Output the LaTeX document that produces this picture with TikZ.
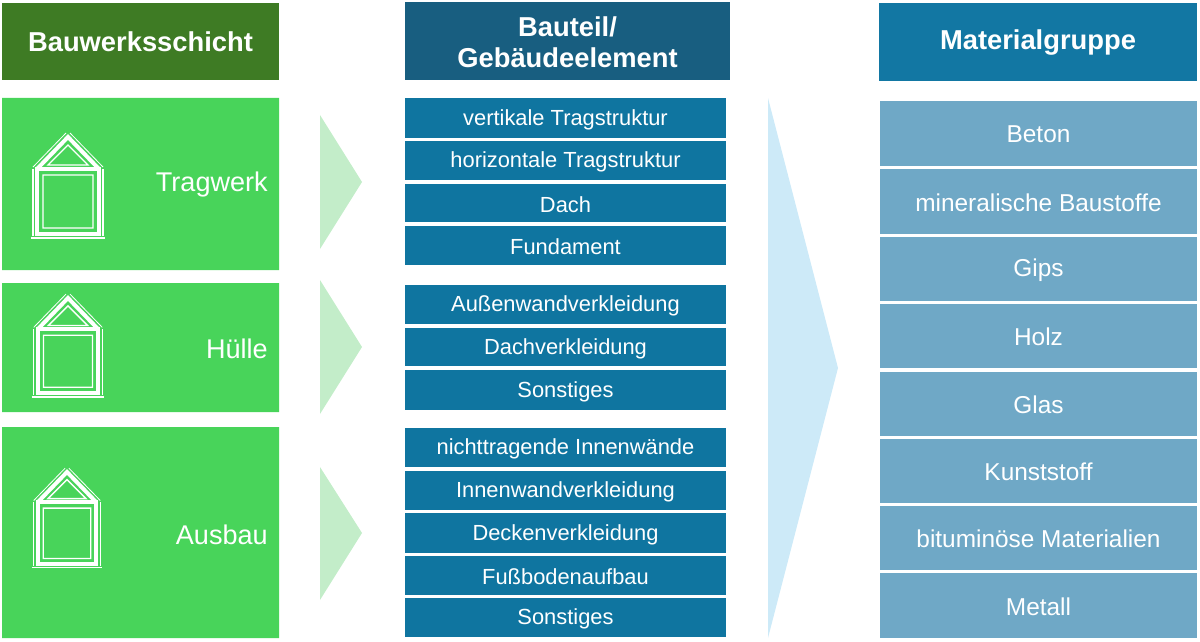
\documentclass[tikz,border=0pt]{standalone}
\usepackage{fontspec}
\setmainfont{Liberation Sans}
\begin{document}
\begin{tikzpicture}[x=0.75pt,y=-0.75pt,
  hdr/.style={text=white,font=\bfseries\fontsize{20.5}{23}\selectfont,align=center,inner sep=0},
  lbl/.style={text=white,font=\fontsize{16.4}{19}\selectfont,inner sep=0},
  big/.style={text=white,font=\fontsize{20.3}{24}\selectfont,inner sep=0,anchor=east}]
\definecolor{hg}{HTML}{3E7B24}\definecolor{hb}{HTML}{185E80}\definecolor{hc}{HTML}{1277A3}
\definecolor{gr}{HTML}{48D45A}\definecolor{lg}{HTML}{C3EDC9}\definecolor{mb}{HTML}{0F75A0}
\definecolor{lb}{HTML}{CDEAF8}\definecolor{rb}{HTML}{6FA8C6}
\useasboundingbox (0,0) rectangle (1200,642);
\newcommand{\house}[3]{% x,y of apex, scale
 \begin{scope}[shift={(#1,#2)},scale=#3,white]
  \draw[line width=3pt] (-31,32) -- (0,0) -- (31,32);
  \draw[line width=0.6pt] (-35,30)--(-2,-4) (35,30)--(2,-4);
  \draw[line width=3pt] (-31,32) rectangle (31,97);
  \draw[line width=1pt] (-25,38) rectangle (25,91) (-20,28)--(0,8)--(20,28)--cycle;
  \draw[line width=0.8pt] (-35,32)--(-35,99) (35,32)--(35,99) (-37,101)--(37,101);
 \end{scope}}
\node[fill=hg,minimum width=277*0.75pt,minimum height=77*0.75pt,hdr] (h1) at (140.5,41.5) {Bauwerksschicht};
\fill[hb] (405,2) rectangle (730,80);
\node[hdr] (h2) at (567.5,42) {Bauteil/\\Gebäudeelement};
\node[fill=hc,minimum width=318*0.75pt,minimum height=78*0.75pt,hdr] (h3) at (1038,42) {Materialgruppe};
\fill[gr] (2,98) rectangle (279,270) (2,283) rectangle (279,412) (2,427) rectangle (279,638);
\node[big] (t1) at (268,185) {Tragwerk};
\node[big] (t2) at (268,349) {Hülle};
\node[big] (t3) at (268,535) {Ausbau};
\house{68}{137}{1}\house{68}{298}{0.98}\house{67}{472}{0.95}
\fill[lg] (320,115)--(362,182)--(320,249)--cycle (320,280)--(362,347)--(320,414)--cycle (320,467)--(362,533)--(320,600)--cycle;
\fill[lb] (768,98)--(838,368)--(768,638)--cycle;
\foreach \a/\b/\t [count=\i] in {98/138/vertikale Tragstruktur,141/180/horizontale Tragstruktur,184/222/Dach,226/265/Fundament,285/324/Außenwandverkleidung,328/366/Dachverkleidung,370/410/Sonstiges,428/467/nichttragende Innenwände,471/510/Innenwandverkleidung,513/553/Deckenverkleidung,556/595/Fußbodenaufbau,598/637/Sonstiges}{
  \fill[mb] (405,\a) rectangle (726,\b);
  \node[lbl] (m\i) at (565.5,{(\a+\b)/2+1.5}) {\t};}
\foreach \a/\b/\t [count=\i] in {101/166/Beton,169/234/mineralische Baustoffe,237/301/Gips,304/368/Holz,372/436/Glas,439/503/Kunststoff,506/570/bituminöse Materialien,573/638/Metall}{
  \fill[rb] (880,\a) rectangle (1197,\b);
  \node[lbl,font=\fontsize{18.3}{21}\selectfont] (r\i) at (1038.5,{(\a+\b)/2+1}) {\t};}
\end{tikzpicture}
\end{document}
